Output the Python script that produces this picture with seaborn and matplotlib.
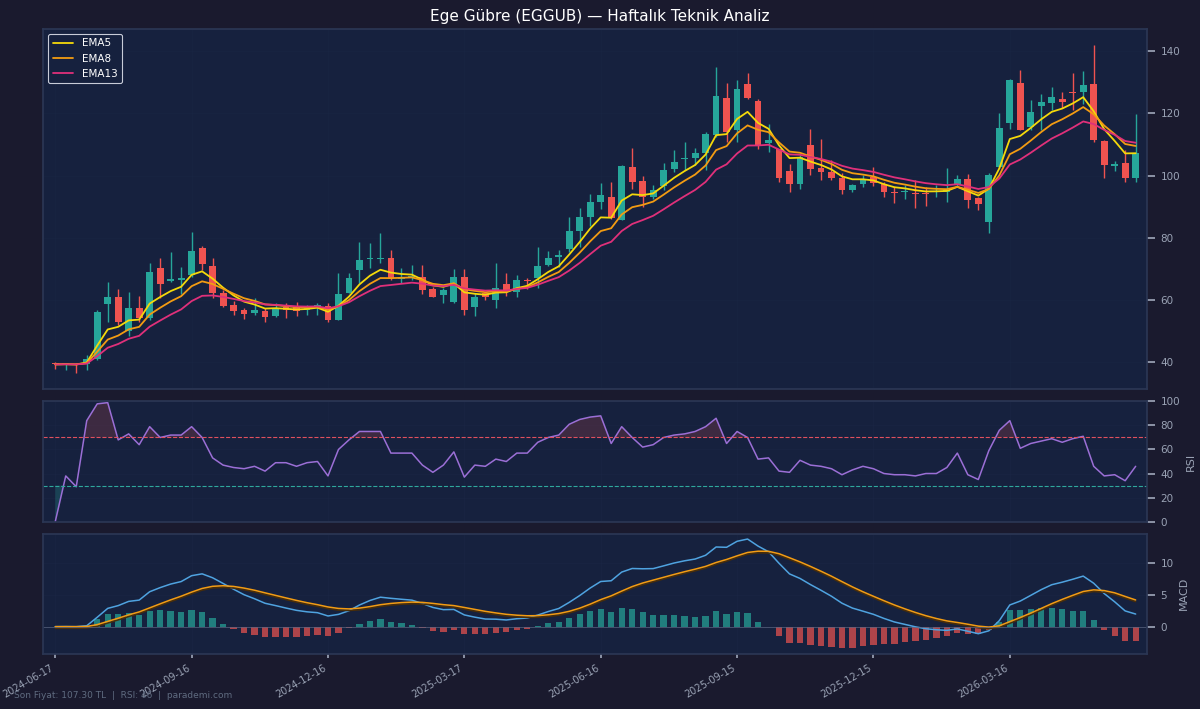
import numpy as np
import pandas as pd
import seaborn as sns
import matplotlib
matplotlib.use("Agg")
import matplotlib.pyplot as plt
import matplotlib.patheffects as pe

# Haftalık mum verileri
start_date = "2024-06-17"

opens = [39.6, 39.2, 39.4, 39.3, 41.0, 58.7, 60.8, 49.8, 57.5, 54.1,
         70.1, 66.0, 66.5, 68.0, 76.8, 71.0, 62.3, 58.2, 56.7, 55.8,
         56.4, 54.9, 57.8, 57.6, 56.6, 57.8, 58.1, 53.5, 62.3, 69.6,
         73.0, 73.1, 73.3, 66.6, 67.3, 67.2, 63.5, 61.5, 59.4, 67.4,
         57.8, 62.1, 59.9, 65.0, 62.6, 66.5, 66.9, 71.2, 73.9, 76.2,
         82.2, 86.7, 91.5, 93.2, 85.6, 102.6, 98.3, 93.0, 96.6, 102.0,
         105.2, 105.5, 107.3, 113.0, 125.0, 114.6, 129.4, 124.0, 110.6, 108.4,
         101.5, 97.4, 109.8, 102.3, 101.2, 99.1, 95.3, 97.2, 99.6, 97.2,
         94.6, 94.8, 94.4, 94.4, 94.6, 94.8, 97.2, 99.0, 92.8, 85.1,
         102.8, 116.9, 129.8, 115.5, 122.3, 123.5, 124.8, 126.9, 126.9, 129.6,
         111.2, 103.2, 103.9, 99.1]
highs = [39.8, 39.6, 39.6, 42.2, 56.7, 65.6, 63.5, 62.6, 61.3, 71.7,
         73.3, 75.3, 70.4, 81.7, 77.4, 73.3, 63.2, 59.6, 57.5, 60.5,
         57.3, 58.9, 58.9, 59.4, 58.3, 58.9, 58.9, 68.5, 68.5, 78.7,
         78.2, 81.4, 76.0, 70.1, 71.2, 71.2, 64.2, 63.7, 69.9, 69.9,
         62.1, 62.6, 72.0, 68.5, 68.0, 66.9, 76.9, 75.8, 76.0, 86.7,
         89.4, 94.0, 97.7, 98.0, 103.3, 109.0, 99.8, 96.9, 104.1, 108.2,
         110.8, 108.9, 114.1, 135.0, 129.8, 130.7, 133.0, 124.5, 116.5, 108.7,
         103.7, 106.6, 114.9, 111.8, 105.0, 100.7, 97.4, 100.1, 102.8, 98.0,
         96.4, 96.9, 98.5, 96.4, 96.9, 102.3, 100.1, 100.4, 93.2, 100.7,
         120.0, 131.2, 134.1, 124.3, 126.4, 128.5, 126.9, 133.0, 133.7, 141.9,
         111.4, 104.8, 108.2, 119.7]
lows = [37.6, 37.5, 36.4, 37.4, 40.6, 53.0, 51.9, 48.2, 53.0, 53.5,
        60.5, 65.8, 62.0, 67.4, 69.6, 60.7, 57.8, 55.1, 53.7, 55.1,
        52.8, 54.6, 54.2, 54.9, 55.1, 55.1, 53.0, 53.5, 62.1, 65.3,
        70.1, 71.7, 66.4, 65.3, 66.4, 61.9, 60.8, 58.9, 59.1, 55.1,
        54.8, 59.9, 57.3, 61.2, 61.0, 63.4, 63.7, 70.9, 70.6, 75.5,
        77.1, 83.7, 89.1, 85.9, 85.6, 95.8, 89.9, 92.6, 95.3, 101.2,
        101.7, 103.3, 101.7, 112.4, 110.8, 110.8, 124.5, 108.7, 107.6, 98.0,
        94.8, 95.8, 100.1, 98.7, 98.5, 94.2, 94.8, 96.4, 96.6, 93.2,
        91.2, 92.6, 89.4, 90.3, 93.2, 91.6, 96.4, 89.4, 88.9, 81.6,
        102.3, 115.1, 114.6, 114.6, 114.8, 121.0, 121.6, 121.0, 123.0, 110.9,
        99.1, 101.5, 98.0, 98.0]
closes = [39.2, 39.4, 39.0, 41.0, 56.2, 60.8, 53.0, 57.5, 54.1, 69.1,
          65.1, 66.6, 67.0, 75.7, 71.4, 62.1, 58.1, 56.4, 55.4, 56.6,
          54.6, 57.5, 56.7, 56.4, 57.4, 58.3, 53.5, 61.9, 66.9, 72.8,
          73.4, 73.5, 66.9, 67.4, 67.7, 63.2, 61.0, 63.2, 67.4, 56.7,
          61.0, 61.0, 63.7, 62.6, 66.4, 66.0, 70.9, 73.6, 74.4, 82.2,
          86.7, 91.6, 93.7, 86.2, 103.0, 98.0, 93.2, 95.3, 101.7, 104.4,
          105.8, 107.3, 113.5, 125.5, 114.0, 128.0, 125.1, 109.8, 111.3, 99.1,
          97.4, 106.0, 102.0, 101.2, 99.1, 95.3, 96.9, 98.8, 97.7, 94.8,
          94.3, 95.1, 94.1, 94.1, 95.0, 95.3, 99.0, 92.1, 90.8, 100.1,
          115.4, 130.7, 114.8, 120.5, 123.7, 125.3, 123.7, 126.5, 129.3, 111.6,
          103.4, 103.6, 99.1, 107.3]

# RSI değerleri
rsi_values = [0, 38, 29, 84, 98, 99, 68, 73, 64, 79,
              70, 72, 72, 79, 70, 53, 47, 45, 44, 46,
              42, 49, 49, 46, 49, 50, 38, 60, 68, 75,
              75, 75, 57, 57, 57, 47, 41, 47, 58, 37,
              47, 46, 52, 50, 57, 57, 66, 70, 72, 81,
              85, 87, 88, 65, 79, 70, 62, 64, 70, 72,
              73, 75, 79, 86, 65, 75, 70, 52, 53, 42,
              41, 51, 47, 46, 44, 39, 43, 46, 44, 40,
              39, 39, 38, 40, 40, 45, 57, 39, 35, 59,
              76, 84, 61, 65, 67, 69, 66, 69, 71, 46,
              38, 39, 34, 46]

tick_labels = ["2024-06-17", "2024-09-16", "2024-12-16", "2025-03-17",
               "2025-06-16", "2025-09-15", "2025-12-15", "2026-03-16"]

# Renkler
FIG_BG = "#1a1a2e"
AX_BG = "#16213e"
UP = "#26a69a"
DOWN = "#ef5350"
TXT = "#9aa3b5"
SPINE = "#2b3654"

df = pd.DataFrame({"Open": opens, "High": highs, "Low": lows,
                   "Close": closes, "RSI": rsi_values})
dates = pd.date_range(start_date, periods=len(df), freq="7D")
df["x"] = np.arange(len(df))

# Göstergeler: EMA ve MACD kapanışlardan hesaplanıyor
for span in [5, 8, 13]:
    df[f"EMA{span}"] = df["Close"].ewm(span=span, adjust=False).mean()
ema12 = df["Close"].ewm(span=12, adjust=False).mean()
ema26 = df["Close"].ewm(span=26, adjust=False).mean()
df["MACD"] = ema12 - ema26
df["Signal"] = df["MACD"].ewm(span=9, adjust=False).mean()
df["Hist"] = df["MACD"] - df["Signal"]

sns.set_theme(style="dark")
plt.rcParams.update({
    "figure.facecolor": FIG_BG,
    "axes.facecolor": AX_BG,
    "axes.edgecolor": SPINE,
    "axes.labelcolor": TXT,
    "xtick.color": TXT,
    "ytick.color": TXT,
    "text.color": "white",
    "grid.color": "#223052",
    "grid.linewidth": 0.5,
})
plt.rcParams["font.family"] = ["DejaVu Sans"]

fig = plt.figure(figsize=(12, 7.09), dpi=100)
gs = fig.add_gridspec(3, 1, height_ratios=[3, 1, 1], hspace=0.06,
                      left=0.036, right=0.956, top=0.959, bottom=0.078)
ax = fig.add_subplot(gs[0])
ax_rsi = fig.add_subplot(gs[1], sharex=ax)
ax_macd = fig.add_subplot(gs[2], sharex=ax)

# Mumlar
colors = np.where(df["Close"] >= df["Open"], UP, DOWN)
ax.vlines(df["x"], df["Low"], df["High"], colors=colors, linewidth=1)
body = (df["Close"] - df["Open"]).abs().clip(lower=0.35)
ax.bar(df["x"], body, bottom=df[["Open", "Close"]].min(axis=1),
       width=0.65, color=colors, linewidth=0)

sns.lineplot(data=df, x="x", y="EMA5", ax=ax, color="#f5d90a", linewidth=1.3, label="EMA5")
sns.lineplot(data=df, x="x", y="EMA8", ax=ax, color="#f39c12", linewidth=1.3, label="EMA8")
sns.lineplot(data=df, x="x", y="EMA13", ax=ax, color="#e0307a", linewidth=1.3, label="EMA13")
leg = ax.legend(loc="upper left", fontsize=7.5, facecolor=AX_BG, edgecolor="#c8ccd8",
                framealpha=1, labelcolor="white")
leg.get_frame().set_linewidth(0.8)
ax.yaxis.tick_right()
ax.set_ylabel("")
ax.set_xlabel("")
ax.grid(True, alpha=0.2)
ax.tick_params(labelbottom=False, bottom=False, labelsize=7.5)

# RSI
sns.lineplot(data=df, x="x", y="RSI", ax=ax_rsi, color="#9b6fd6", linewidth=1.1)
ax_rsi.axhline(70, color="#e0505e", linestyle="--", linewidth=0.8)
ax_rsi.axhline(30, color="#2fa89c", linestyle="--", linewidth=0.8)
ax_rsi.fill_between(df["x"], df["RSI"], 70, where=df["RSI"] >= 70,
                    color=DOWN, alpha=0.18, interpolate=True, linewidth=0)
ax_rsi.fill_between(df["x"], df["RSI"], 30, where=df["RSI"] <= 30,
                    color=UP, alpha=0.25, interpolate=True, linewidth=0)
ax_rsi.set_ylim(0, 100)
ax_rsi.set_yticks([0, 20, 40, 60, 80, 100])
ax_rsi.yaxis.tick_right()
ax_rsi.yaxis.set_label_position("right")
ax_rsi.set_ylabel("RSI", fontsize=8)
ax_rsi.set_xlabel("")
ax_rsi.grid(True, alpha=0.25)
ax_rsi.tick_params(labelbottom=False, bottom=False, labelsize=7.5)

# MACD
hist_colors = np.where(df["Hist"] >= 0, UP, DOWN)
ax_macd.bar(df["x"], df["Hist"], width=0.6, color=hist_colors, alpha=0.7, linewidth=0)
sns.lineplot(data=df, x="x", y="MACD", ax=ax_macd, color="#4fa3e0", linewidth=1.1)
sns.lineplot(data=df, x="x", y="Signal", ax=ax_macd, color="#f39c12", linewidth=1.1)
ax_macd.lines[-1].set_path_effects([
    pe.SimpleLineShadow(offset=(0, -1.2), shadow_color="#4a2e08", alpha=1), pe.Normal()])
ax_macd.axhline(0, color="#5a6480", linewidth=0.5)
ax_macd.yaxis.tick_right()
ax_macd.yaxis.set_label_position("right")
ax_macd.set_ylabel("MACD", fontsize=8)
ax_macd.set_xlabel("")
ax_macd.grid(True, alpha=0.25)
ax_macd.tick_params(labelsize=7.5)

tick_pos = [dates.get_loc(pd.Timestamp(t)) for t in tick_labels]
ax_macd.set_xticks(tick_pos)
ax_macd.set_xticklabels(tick_labels, rotation=30, ha="right", fontsize=7)
ax_macd.tick_params(axis="x", bottom=True, length=3, color=TXT)
ax.set_xlim(-1.15, len(df) - 1 + 1.1)

for a in (ax, ax_rsi, ax_macd):
    for s in a.spines.values():
        s.set_color(SPINE)

fig.suptitle("Ege Gübre (EGGUB) — Haftalık Teknik Analiz", fontsize=11,
             color="white", y=0.987)
fig.text(0.012, 0.016,
         f"Son Fiyat: {closes[-1]:.2f} TL  |  RSI: {rsi_values[-1]}  |  parademi.com",
         fontsize=6.5, color="#5f6b80")

fig.savefig("out.png", dpi=100, facecolor=FIG_BG)
